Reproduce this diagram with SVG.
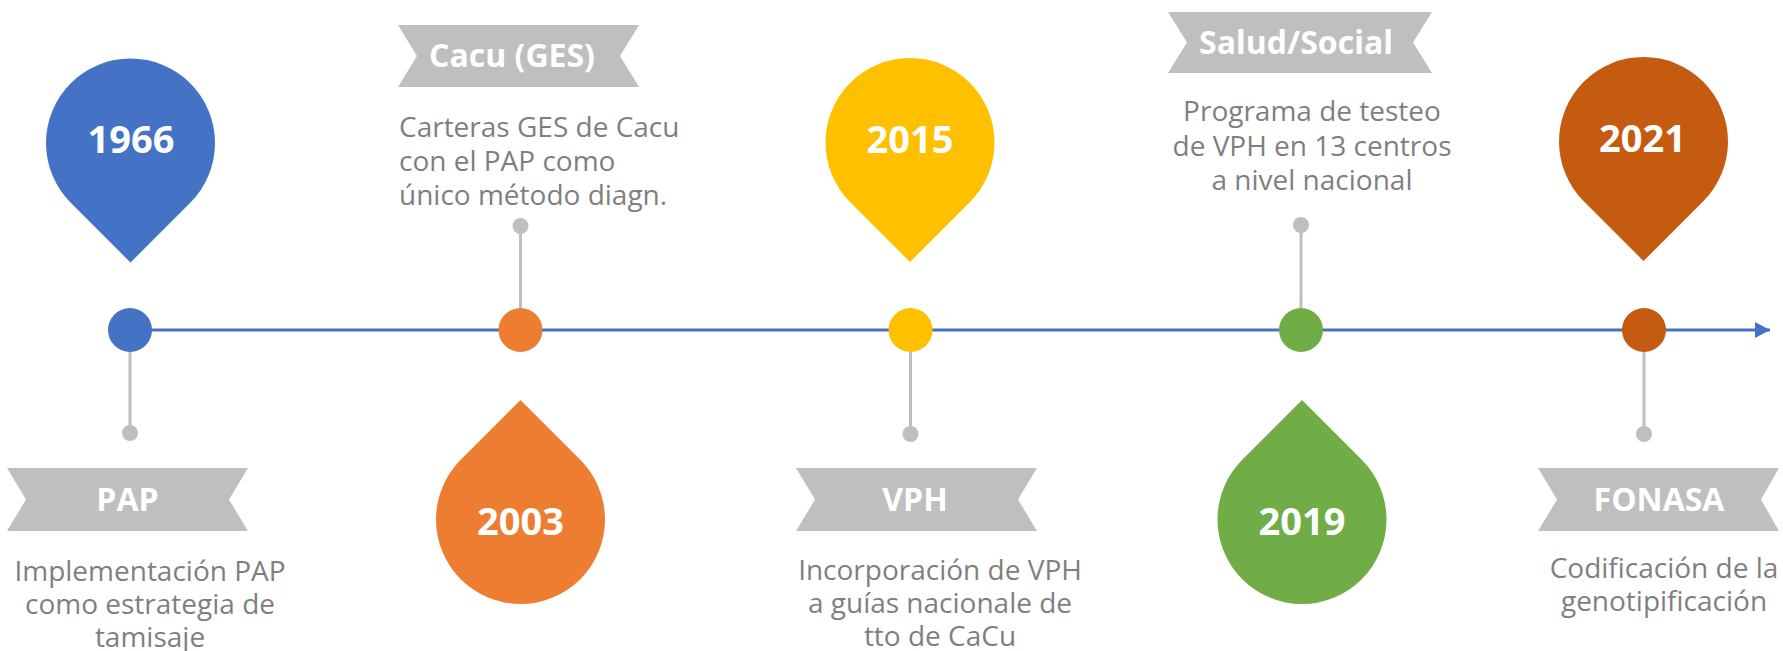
<svg xmlns="http://www.w3.org/2000/svg" xmlns:xlink="http://www.w3.org/1999/xlink" width="1783" height="651" viewBox="0 0 1783 651">
<style>
.year{font-family:"Open Sans","Liberation Sans",sans-serif;font-weight:700;font-size:38px;fill:#FFFFFF;text-anchor:middle}
.ban{fill:#BFBFBF}
.bantxt{font-family:"Open Sans","Liberation Sans",sans-serif;font-weight:700;font-size:32px;fill:#FFFFFF;text-anchor:middle}
.desc{font-family:"Open Sans","Liberation Sans",sans-serif;font-size:28px;fill:#7F7F7F;text-anchor:middle}
.stem{stroke:#BFBFBF;stroke-width:3;fill:none}
.dot{fill:#BFBFBF}
</style>
<defs>
<path id="pinDown" d="M0,119.5 L-59.75,59.75 A84.5,84.5 0 1 1 59.75,59.75 Z"/>
<path id="pinUp" d="M0,-119.5 L59.75,-59.75 A84.5,84.5 0 1 1 -59.75,-59.75 Z"/>
<marker id="arrow" markerWidth="16" markerHeight="16" refX="15" refY="8" orient="auto" markerUnits="userSpaceOnUse">
<path d="M0,0 L15,8 L0,16 Z" fill="#4472C4"/>
</marker>
</defs>
<g id="connectors">
<line x1="130" y1="330" x2="1770" y2="330" stroke="#4472C4" stroke-width="3" marker-end="url(#arrow)"/>
<line class="stem" x1="130" y1="330" x2="130" y2="433"/>
<circle class="dot" cx="130" cy="433" r="8"/>
<line class="stem" x1="520.5" y1="226" x2="520.5" y2="330"/>
<circle class="dot" cx="520.5" cy="226" r="8"/>
<line class="stem" x1="910.5" y1="330" x2="910.5" y2="434"/>
<circle class="dot" cx="910.5" cy="434" r="8"/>
<line class="stem" x1="1301" y1="225" x2="1301" y2="330"/>
<circle class="dot" cx="1301" cy="225" r="8"/>
<line class="stem" x1="1644" y1="330" x2="1644" y2="434"/>
<circle class="dot" cx="1644" cy="434" r="8"/>
</g>
<g id="node-1966">
<circle cx="130" cy="330" r="22" fill="#4472C4"/>
<use xlink:href="#pinDown" href="#pinDown" transform="translate(130.5,143)" fill="#4472C4"/>
<text class="year" x="131" y="153">1966</text>
<polygon class="ban" points="7,468 248,468 229,499.5 248,531 7,531 26,499.5"/>
<text class="bantxt" x="127.5" y="511">PAP</text>
<text class="desc" x="150" y="581">Implementación PAP</text>
<text class="desc" x="150" y="614">como estrategia de</text>
<text class="desc" x="150" y="647">tamisaje</text>
</g>
<g id="node-2003">
<circle cx="520.5" cy="330" r="22" fill="#ED7D31"/>
<use xlink:href="#pinUp" href="#pinUp" transform="translate(520.5,519.5)" fill="#ED7D31"/>
<text class="year" x="520.5" y="535">2003</text>
<polygon class="ban" points="398,25 639,25 620,56 639,87 398,87 417,56"/>
<text class="bantxt" x="512" y="67">Cacu (GES)</text>
<text class="desc" x="399" y="137" style="text-anchor:start">Carteras GES de Cacu</text>
<text class="desc" x="399" y="171" style="text-anchor:start">con el PAP como</text>
<text class="desc" x="399" y="205" style="text-anchor:start">único método diagn.</text>
</g>
<g id="node-2015">
<circle cx="910.5" cy="330" r="22" fill="#FFC000"/>
<use xlink:href="#pinDown" href="#pinDown" transform="translate(910,142.5)" fill="#FFC000"/>
<text class="year" x="910" y="153">2015</text>
<polygon class="ban" points="796,468 1037,468 1018,499.5 1037,531 796,531 815,499.5"/>
<text class="bantxt" x="915" y="511">VPH</text>
<text class="desc" x="940" y="580">Incorporación de VPH</text>
<text class="desc" x="940" y="613">a guías nacionale de</text>
<text class="desc" x="940" y="646">tto de CaCu</text>
</g>
<g id="node-2019">
<circle cx="1301" cy="330" r="22" fill="#70AD47"/>
<use xlink:href="#pinUp" href="#pinUp" transform="translate(1302,519.5)" fill="#70AD47"/>
<text class="year" x="1302" y="535">2019</text>
<polygon class="ban" points="1168,12 1432,12 1413,42.5 1432,73 1168,73 1187,42.5"/>
<text class="bantxt" x="1296" y="53.5">Salud/Social</text>
<text class="desc" x="1312" y="121">Programa de testeo</text>
<text class="desc" x="1312" y="156">de VPH en 13 centros</text>
<text class="desc" x="1312" y="190">a nivel nacional</text>
</g>
<g id="node-2021">
<circle cx="1644" cy="330" r="22" fill="#C55A11"/>
<use xlink:href="#pinDown" href="#pinDown" transform="translate(1643.5,141.5)" fill="#C55A11"/>
<text class="year" x="1642.5" y="152">2021</text>
<polygon class="ban" points="1538,468 1779,468 1761,499.5 1779,531 1538,531 1557,499.5"/>
<text class="bantxt" x="1659" y="511">FONASA</text>
<text class="desc" x="1664" y="578">Codificación de la</text>
<text class="desc" x="1664" y="611">genotipificación</text>
</g>
</svg>
